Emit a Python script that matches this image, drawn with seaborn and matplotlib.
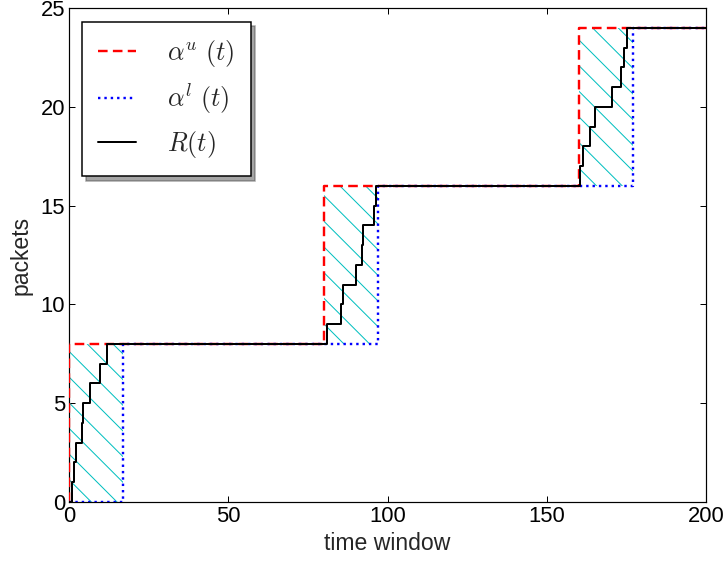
import numpy as np
import pandas as pd
import matplotlib
matplotlib.use("Agg")
import matplotlib.pyplot as plt
import seaborn as sns

# ---- data ----
up_time = [0, 0, 80, 160, 200]
up_value = [0, 8, 16, 24, 24]
low_time = [0, 17, 97, 177, 200]
low_value = [0, 8, 16, 24, 24]
r_time = [0, 0.8, 1.6, 2.3, 4.0, 4.5, 6.6, 9.7, 11.8,
          81.1, 85.3, 85.9, 90.0, 91.9, 92.4, 95.9, 96.4,
          160.4, 161.3, 163.6, 165.2, 170.4, 173.2, 174.3, 175.1, 200]
r_value = [0, 1, 2, 3, 4, 5, 6, 7, 8,
           9, 10, 11, 12, 13, 14, 15, 16,
           17, 18, 19, 20, 21, 22, 23, 24, 24]
x_ticks = [0, 50, 100, 150, 200]
y_ticks = [0, 5, 10, 15, 20, 25]

DPI = 154
PX = 72.0 / DPI  # points per pixel

sns.set_style("ticks")
plt.rcParams.update({
    "font.family": ["Liberation Sans", "DejaVu Sans"],
    "mathtext.fontset": "cm",
    "xtick.direction": "in",
    "ytick.direction": "in",
    "xtick.top": True,
    "ytick.right": True,
    "xtick.major.size": 6 * PX,
    "ytick.major.size": 6 * PX,
    "xtick.major.width": 1 * PX,
    "ytick.major.width": 1 * PX,
    "axes.linewidth": 1.2 * PX,
    "axes.edgecolor": "black",
    "hatch.linewidth": 1.0 * PX,
    "hatch.color": "c",
})

fig = plt.figure(figsize=(727 / DPI, 562 / DPI), dpi=DPI)
ax = fig.add_axes([69 / 727, 1 - 502 / 562, 637 / 727, 494 / 562])

df_up = pd.DataFrame({"t": up_time, "v": up_value})
df_low = pd.DataFrame({"t": low_time, "v": low_value})
df_r = pd.DataFrame({"t": r_time, "v": r_value})

# hatched band between the bounds
grid = np.unique(np.concatenate([up_time, low_time]))
up_f = np.asarray(up_value)[np.searchsorted(up_time, grid, side="right") - 1]
low_f = np.asarray(low_value)[np.searchsorted(low_time, grid, side="right") - 1]
ax.fill_between(grid, low_f, up_f, step="post", facecolor="none",
                edgecolor="c", hatch="\\\\", linewidth=0, zorder=1)

sns.lineplot(data=df_up, x="t", y="v", ax=ax, color="red",
             linewidth=2.4 * PX, drawstyle="steps-post", sort=False,
             estimator=None, label=r"$\alpha^u\ (t)$", zorder=3)
sns.lineplot(data=df_low, x="t", y="v", ax=ax, color="blue", linestyle=":",
             linewidth=2.4 * PX, drawstyle="steps-post", sort=False,
             estimator=None, label=r"$\alpha^l\ (t)$", zorder=3)
sns.lineplot(data=df_r, x="t", y="v", ax=ax, color="black", linestyle="-",
             linewidth=2.0 * PX, drawstyle="steps-post", sort=False,
             estimator=None, label=r"$R(t)$", zorder=4)

ax.get_lines()[0].set_linestyle((0, (4.0, 2.2)))

ax.set_xlim(0, 200)
ax.set_ylim(0, 25)
ax.set_xticks(x_ticks)
ax.set_yticks(y_ticks)
ax.tick_params(labelsize=22 * PX, pad=4 * PX, colors="black")
ax.set_xlabel("time window", fontsize=23 * PX, labelpad=5 * PX)
ax.set_ylabel("packets", fontsize=23 * PX, labelpad=8 * PX)

leg = ax.legend(loc="upper left", bbox_to_anchor=(13 / 637, 1 - 14 / 494),
                borderaxespad=0, fontsize=26 * PX, shadow=True, fancybox=False,
                frameon=True, framealpha=1, edgecolor="black",
                handlelength=1.46, handletextpad=1.2, labelspacing=0.5,
                borderpad=0.62, handleheight=0.7)
leg.get_frame().set_linewidth(1.5 * PX)

fig.savefig("out.png", dpi=DPI)
